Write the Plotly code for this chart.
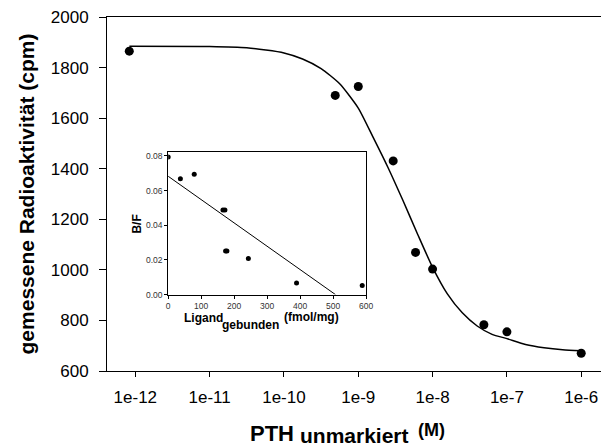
import plotly.graph_objects as go

# ---- main data (competition binding) ----
conc = [8.3e-13, 4.9e-10, 1.0e-9, 2.95e-9, 5.9e-9, 1.0e-8, 4.9e-8, 1.0e-7, 1.0e-6]
cpm = [1865, 1690, 1725, 1431, 1069, 1003, 783, 755, 670]

# fitted curve, points
curve_conc = [8.32e-13, 1e-11, 3.16e-11, 1e-10, 1.78e-10, 3.16e-10, 5.62e-10, 1e-9,
              1.58e-9, 2.51e-9, 3.98e-9, 6.31e-9, 1e-8, 1.58e-8, 2.51e-8, 3.98e-8,
              6.31e-8, 1e-7, 1.78e-7, 3.16e-7, 5.62e-7, 1e-6]
curve_cpm = [1884, 1883, 1878, 1858, 1834, 1796, 1736, 1640,
             1525, 1405, 1275, 1140, 1010, 905, 830, 778,
             745, 728, 705, 692, 684, 680]

x_tickvals = [1e-12, 1e-11, 1e-10, 1e-9, 1e-8, 1e-7, 1e-6]
x_ticktext = ["1e-12", "1e-11", "1e-10", "1e-9", "1e-8", "1e-7", "1e-6"]
y_tickvals = [600, 800, 1000, 1200, 1400, 1600, 1800, 2000]

# ---- inset data (Scatchard) ----
ligand = [0, 37, 79, 166, 172, 174, 178, 243, 389, 588]
bf = [0.0794, 0.0669, 0.0694, 0.0488, 0.0488, 0.0252, 0.0252, 0.0208, 0.0067, 0.0052]
reg_x = [0, 507]
reg_y = [0.0683, 0.0]
inset_xticks = [0, 100, 200, 300, 400, 500, 600]
inset_yticks = [0.0, 0.02, 0.04, 0.06, 0.08]
inset_yticktext = ["0.00", "0.02", "0.04", "0.06", "0.08"]

FONT = "Liberation Sans, Arial, sans-serif"
W, H = 608, 448
L, R, T, B = 107.3, 0, 16.7, 77.3
PW, PH = W - L - R, H - T - B


def px(x):
    return (x - L) / PW


def py(y):
    return (H - B - y) / PH


fig = go.Figure()
fig.add_trace(go.Scatter(x=curve_conc, y=curve_cpm, mode="lines",
                         line=dict(color="black", width=1.5, shape="spline", smoothing=0.6),
                         hoverinfo="skip", showlegend=False))
fig.add_trace(go.Scatter(x=conc, y=cpm, mode="markers", marker=dict(color="black", size=9),
                         showlegend=False))
fig.add_trace(go.Scatter(x=reg_x, y=reg_y, mode="lines", line=dict(color="black", width=1),
                         xaxis="x2", yaxis="y2", showlegend=False))
fig.add_trace(go.Scatter(x=ligand, y=bf, mode="markers", marker=dict(color="black", size=5),
                         xaxis="x2", yaxis="y2", showlegend=False))

fig.update_layout(
    width=W, height=H,
    margin=dict(l=L, r=R, t=T, b=B),
    paper_bgcolor="white", plot_bgcolor="white",
    font=dict(family=FONT, color="black"),
    xaxis=dict(type="log", range=[-12.381, -5.734], tickvals=x_tickvals, ticktext=x_ticktext,
               showline=True, linecolor="black", linewidth=1, mirror=True, showgrid=False, zeroline=False,
               ticks="outside", ticklen=5, tickcolor="black", tickfont=dict(size=17, family=FONT),
               ticklabelstandoff=6),
    yaxis=dict(range=[600, 2000], tickvals=y_tickvals, showline=True, linecolor="black", linewidth=1,
               mirror=False, showgrid=False, zeroline=False, ticks="outside", ticklen=7, tickcolor="black",
               tickfont=dict(size=17, family=FONT), ticklabelstandoff=7,
               title=dict(text="gemessene Radioaktivität (cpm)", font=dict(size=21, family=FONT, weight="bold"),
                          standoff=10)),
    xaxis2=dict(domain=[px(169.3), px(370)], anchor="y2", range=[0, 600], tickvals=inset_xticks,
                showline=True, linecolor="black", linewidth=1, mirror=True, showgrid=False, zeroline=False,
                ticks="outside", ticklen=3, tickcolor="black", tickfont=dict(size=8.5, family=FONT, color="#333")),
    yaxis2=dict(domain=[py(294.3), py(151.7)], anchor="x2", range=[0, 0.0823], tickvals=inset_yticks,
                ticktext=inset_yticktext, showline=True, linecolor="black", linewidth=1, mirror=True,
                showgrid=False, zeroline=False, ticks="outside", ticklen=3, tickcolor="black",
                tickfont=dict(size=8.5, family=FONT, color="#333")),
)

ann = []
# main x title pieces
ann.append(dict(text="PTH", x=px(251.7), y=py(433), xanchor="left", yanchor="middle",
                font=dict(size=22, family=FONT, weight="bold")))
ann.append(dict(text="unmarkiert", x=px(302), y=py(435), xanchor="left", yanchor="middle",
                font=dict(size=21, family=FONT, weight="bold")))
ann.append(dict(text="(M)", x=px(422), y=py(430), xanchor="left", yanchor="middle",
                font=dict(size=18, family=FONT, weight="bold")))
# inset x title pieces
ann.append(dict(text="Ligand", x=px(184), y=py(318), xanchor="left", yanchor="middle",
                font=dict(size=12, family=FONT, weight="bold")))
ann.append(dict(text="gebunden", x=px(222.7), y=py(324.5), xanchor="left", yanchor="middle",
                font=dict(size=12, family=FONT, weight="bold")))
ann.append(dict(text="(fmol/mg)", x=px(286), y=py(316.5), xanchor="left", yanchor="middle",
                font=dict(size=12, family=FONT, weight="bold")))
# inset y title
ann.append(dict(text="B/F", x=px(138), y=py(224), xanchor="center", yanchor="middle", textangle=-90,
                font=dict(size=12, family=FONT, weight="bold")))
for a in ann:
    a.update(xref="paper", yref="paper", showarrow=False, borderpad=0)
fig.update_layout(annotations=ann)

fig.write_html("out.html")
